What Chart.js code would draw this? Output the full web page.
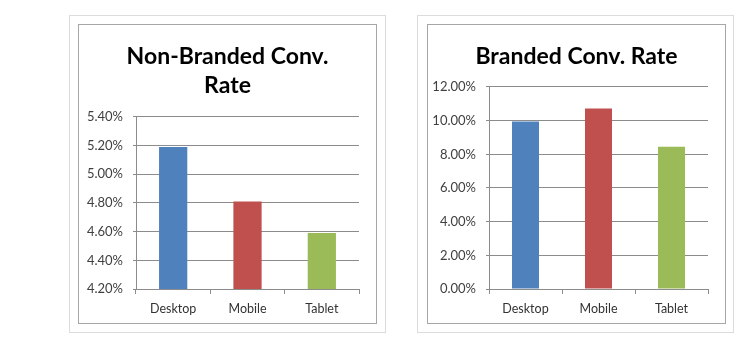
<!DOCTYPE html>
<html>
<head>
<meta charset="utf-8">
<script src="https://cdn.jsdelivr.net/npm/chart.js@4/dist/chart.umd.min.js"></script>
<style>
  html, body { margin: 0; padding: 0; background: #fff; }
  body { width: 753px; height: 352px; position: relative; overflow: hidden; }
  .outer { position: absolute; box-sizing: border-box; border: 1px solid #dcdcdc; }
  .inner { position: absolute; box-sizing: border-box; border: 1px solid #a6a6a6; background: #fff; }
  canvas { position: absolute; left: 0; top: 0; }
</style>
</head>
<body>
<div class="outer" style="left:69px;top:15px;width:317px;height:318px;"></div>
<div class="inner" style="left:78px;top:24px;width:299px;height:300px;"><canvas id="c1" width="297" height="298"></canvas></div>
<div class="outer" style="left:417px;top:15px;width:317px;height:318px;"></div>
<div class="inner" style="left:427px;top:24px;width:299px;height:300px;"><canvas id="c2" width="297" height="298"></canvas></div>
<script>
const categories = ['Desktop', 'Mobile', 'Tablet'];
const nonBrandedRate = [5.19, 4.81, 4.59];
const brandedRate = [9.95, 10.72, 8.45];
const barColors = ['#4F81BD', '#C0504D', '#9BBB59'];
const nonBrandedTitle = ['Non-Branded Conv.', 'Rate'];
const brandedTitle = 'Branded Conv. Rate';
const nonBrandedAxis = { min: 4.2, max: 5.4, step: 0.2 };
const brandedAxis = { min: 0, max: 12, step: 2 };

const FONT = 'Lato, "Open Sans", sans-serif';

function makeChart(id, title, values, axis, yWidth, titlePad, barPct) {
  return new Chart(document.getElementById(id), {
    type: 'bar',
    data: {
      labels: categories,
      datasets: [{
        data: values,
        backgroundColor: barColors,
        borderWidth: 0,
        categoryPercentage: 1,
        barPercentage: barPct
      }]
    },
    options: {
      responsive: false,
      animation: false,
      devicePixelRatio: 1,
      layout: { padding: 0 },
      plugins: {
        legend: { display: false },
        tooltip: { enabled: false },
        title: {
          display: true,
          text: title,
          color: '#000',
          font: { family: FONT, size: 23, weight: 'bold', lineHeight: 1.26 },
          padding: titlePad
        }
      },
      scales: {
        x: {
          grid: { display: true, drawOnChartArea: false, drawTicks: true, tickLength: 5, color: '#8c8c8c', offset: true },
          border: { display: true, color: '#8c8c8c', width: 1 },
          ticks: { color: '#333', font: { family: FONT, size: 12.5 }, padding: 7 },
          afterFit: s => { s.height = 34; }
        },
        y: {
          min: axis.min,
          max: axis.max,
          grid: { color: '#8c8c8c', tickLength: 3, drawTicks: true },
          border: { display: true, color: '#8c8c8c', width: 1 },
          ticks: {
            stepSize: axis.step,
            color: '#404040',
            font: { family: FONT, size: 13 },
            padding: 10,
            callback: v => Number(v).toFixed(2) + '%'
          },
          afterFit: s => { s.width = yWidth; }
        },
        spacer: {
          type: 'linear',
          position: 'right',
          display: true,
          min: axis.min,
          max: axis.max,
          grid: { display: false, drawTicks: false },
          border: { display: false },
          ticks: { display: false },
          afterFit: s => { s.width = 17; }
        }
      }
    }
  });
}

makeChart('c1', nonBrandedTitle, nonBrandedRate, nonBrandedAxis, 57, { top: 17, bottom: 17 }, 0.38);
makeChart('c2', brandedTitle, brandedRate, brandedAxis, 61, { top: 17, bottom: 16 }, 0.37);
</script>
</body>
</html>
